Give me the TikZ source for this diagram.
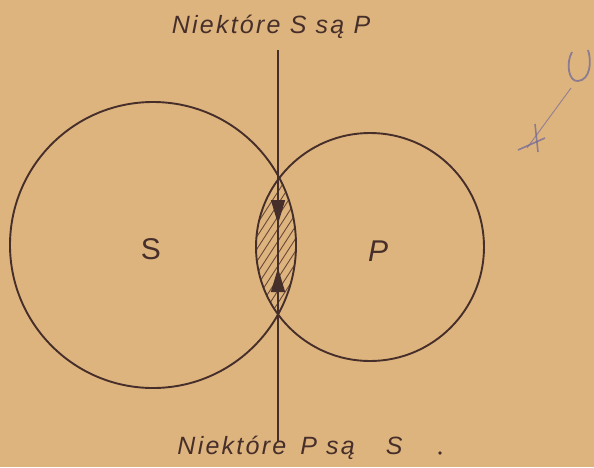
\documentclass[tikz,border=0pt]{standalone}
\usepackage{fontspec}
\setsansfont{Liberation Sans}
\newfontfamily\capfont[LetterSpace=9]{Liberation Sans}
\usetikzlibrary{arrows.meta}
\definecolor{paperCol}{RGB}{222,180,126}
\definecolor{inkCol}{RGB}{70,46,42}
\definecolor{hatchCol}{RGB}{105,72,56}
\definecolor{pencilCol}{RGB}{120,110,150}

\begin{document}
\begin{tikzpicture}[
    x=1pt, y=-1pt,
    font=\sffamily,
    >=Stealth,
    setCircle/.style={circle, draw=inkCol, line width=1.9pt, inner sep=0pt},
    setLabel/.style={font=\sffamily\fontsize{30}{30}\selectfont, text=inkCol},
    caption/.style={font=\capfont\itshape\fontsize{25}{25}\selectfont, text=inkCol},
    hatchLine/.style={draw=hatchCol, line width=0.9pt},
    flowTip/.style={-{Triangle[length=24pt, width=14pt]}, draw=inkCol, line width=1.4pt}
]
    \useasboundingbox[fill=paperCol] (0,0) rectangle (594,467);

    % ---------------- lens hatching ----------------
    \begin{scope}
        \clip (153,245) circle (143pt);
        \clip (370,247) circle (114pt);
        \foreach \x in {150,158,...,330} {
            \draw[hatchLine] (\x,340) -- (\x+110,170);
        }
    \end{scope}

    % ---------------- the two sets ----------------
    \node[setCircle, minimum size=286pt] (S) at (153,245) {};
    \node[setCircle, minimum size=228pt] (P) at (370,247) {};
    \node[setLabel] (Slab) at (151,249) {S};
    \node[setLabel, font=\sffamily\itshape\fontsize{30}{30}\selectfont] (Plab) at (378,251) {P};

    % ---------------- dividing line ----------------
    \coordinate (lineTop) at (278,50);
    \coordinate (lineBot) at (278,442);
    \draw[draw=inkCol, line width=1.4pt] (lineTop) -- (lineBot);

    % arrows inside the common part
    \coordinate (downFrom) at (278,194);
    \coordinate (downTo) at (278,224);
    \coordinate (upFrom) at (278,300);
    \coordinate (upTo) at (278,268);
    \draw[flowTip] (downFrom) -- (downTo);
    \draw[flowTip] (upFrom) -- (upTo);

    % ---------------- captions ----------------
    \node[caption] (topCap) at (271,27) {Niektóre S są P};
    \node[caption] (botCap) at (290,448) {Niektóre\hspace{14pt}P są\hspace{31pt}S};
    \node[circle, fill=inkCol, inner sep=1.3pt] (dot) at (440,453) {};

    % ---------------- pencil mark ----------------
    \coordinate (penA) at (527,148);
    \coordinate (penB) at (571,88);
    \draw[draw=pencilCol, line width=1pt, opacity=0.7] (penA) -- (penB);
    \draw[draw=pencilCol, line width=1.6pt, opacity=0.8] (518,150) -- (545,138);
    \draw[draw=pencilCol, line width=1.6pt, opacity=0.8] (535,124) -- (538,152);
    \draw[draw=pencilCol, line width=1.8pt, opacity=0.8]
        (572,52) .. controls (566,62) and (568,82) .. (578,81)
        .. controls (590,80) and (592,62) .. (588,50);
\end{tikzpicture}
\end{document}
